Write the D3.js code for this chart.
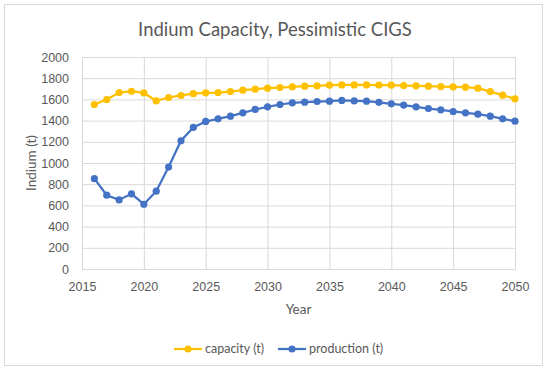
<!DOCTYPE html>
<html>
<head>
<meta charset="utf-8">
<script src="https://cdn.jsdelivr.net/npm/d3@7"></script>
<style>
  body { margin: 0; background: #fff; }
  svg { display: block; font-family: Lato, "Open Sans", sans-serif; }
</style>
</head>
<body>
<svg width="550" height="370"></svg>
<script>
// years on the x axis
var years = [2016, 2017, 2018, 2019, 2020, 2021, 2022, 2023, 2024, 2025,
  2026, 2027, 2028, 2029, 2030, 2031, 2032, 2033, 2034, 2035,
  2036, 2037, 2038, 2039, 2040, 2041, 2042, 2043, 2044, 2045,
  2046, 2047, 2048, 2049, 2050];

// capacity (t)
var capacity = [1552, 1599, 1665, 1677, 1661, 1586, 1618, 1637, 1654, 1662,
  1665, 1674, 1687, 1696, 1706, 1712, 1718, 1725, 1728, 1734,
  1737, 1737, 1737, 1735, 1734, 1731, 1728, 1725, 1721, 1718,
  1715, 1706, 1674, 1640, 1605];

// production (t)
var production = [852, 696, 652, 709, 611, 734, 962, 1210, 1336, 1392,
  1417, 1442, 1473, 1505, 1530, 1552, 1568, 1574, 1580, 1583,
  1590, 1586, 1583, 1572, 1558, 1546, 1530, 1514, 1502, 1486,
  1473, 1461, 1442, 1417, 1395];

var xTicks = [2015, 2020, 2025, 2030, 2035, 2040, 2045, 2050];
var yTicks = [0, 200, 400, 600, 800, 1000, 1200, 1400, 1600, 1800, 2000];

var seriesNames = ["capacity (t)", "production (t)"];
var seriesColours = ["#FFC000", "#4472C4"];

var series = [capacity, production].map(function(vals, i) {
  return {
    name: seriesNames[i],
    colour: seriesColours[i],
    values: vals.map(function(v, j) { return { year: years[j], value: v }; })
  };
});

// SET UP CHART
var svg = d3.select("svg"),
  margin = { top: 57, right: 35, bottom: 101, left: 82 },
  width = +svg.attr("width") - margin.left - margin.right,
  height = +svg.attr("height") - margin.top - margin.bottom;

var textColour = "#595959",
  gridColour = "#D9D9D9";

// outer chart border
svg.append("rect")
  .attr("x", 4.5)
  .attr("y", 4.5)
  .attr("width", 538)
  .attr("height", 361)
  .attr("fill", "#fff")
  .attr("stroke", "#D9D9D9");

var x = d3.scaleLinear().domain([2015, 2050]).range([0, width]),
  y = d3.scaleLinear().domain([0, 2000]).range([height, 0]);

var g = svg.append("g")
  .attr("transform", "translate(" + margin.left + "," + margin.top + ")");

// gridlines
g.append("g")
  .attr("class", "grid grid--y")
  .call(d3.axisLeft(y).tickValues(yTicks).tickSize(-width).tickFormat(""))
  .call(function(s) {
    s.select(".domain").remove();
    s.selectAll("line").attr("stroke", gridColour);
  });

g.append("g")
  .attr("class", "grid grid--x")
  .attr("transform", "translate(0," + height + ")")
  .call(d3.axisBottom(x).tickValues(xTicks).tickSize(-height).tickFormat(""))
  .call(function(s) {
    s.select(".domain").remove();
    s.selectAll("line").attr("stroke", gridColour);
  });

// SET UP AXES
g.append("g")
  .attr("class", "axis axis--x")
  .attr("transform", "translate(0," + height + ")")
  .call(d3.axisBottom(x).tickValues(xTicks).tickSize(0).tickPadding(13).tickFormat(d3.format("d")))
  .call(function(s) {
    s.select(".domain").attr("stroke", gridColour);
    s.selectAll("text").attr("fill", textColour).style("font-size", "12.5px");
  });

g.append("g")
  .attr("class", "axis axis--y")
  .call(d3.axisLeft(y).tickValues(yTicks).tickSize(0).tickPadding(13).tickFormat(d3.format("d")))
  .call(function(s) {
    s.select(".domain").remove();
    s.selectAll("text").attr("fill", textColour).style("font-size", "12.5px");
  });

// LINES
var line = d3.line()
  .x(function(d) { return x(d.year); })
  .y(function(d) { return y(d.value); });

var lines = g.selectAll(".series")
  .data(series)
  .enter()
  .append("g")
  .attr("class", "series");

lines.append("path")
  .attr("d", function(d) { return line(d.values); })
  .attr("fill", "none")
  .attr("stroke", function(d) { return d.colour; })
  .attr("stroke-width", 2.25);

lines.each(function(s) {
  d3.select(this).selectAll("circle")
    .data(s.values)
    .enter()
    .append("circle")
    .attr("cx", function(d) { return x(d.year); })
    .attr("cy", function(d) { return y(d.value); })
    .attr("r", 3.6)
    .attr("fill", s.colour);
});

// ADD TEXT
svg.append("text")
  .text("Indium Capacity, Pessimistic CIGS")
  .attr("x", 275)
  .attr("y", 36)
  .attr("text-anchor", "middle")
  .attr("fill", textColour)
  .style("font-size", "18.5px");

svg.append("text")
  .text("Year")
  .attr("x", margin.left + width / 2)
  .attr("y", 314)
  .attr("text-anchor", "middle")
  .attr("fill", textColour)
  .style("font-size", "13.5px");

svg.append("text")
  .text("Indium (t)")
  .attr("transform", "translate(36," + (margin.top + height / 2) + ") rotate(-90)")
  .attr("text-anchor", "middle")
  .attr("fill", textColour)
  .style("font-size", "13.5px");

// LEGEND
var legendX = [174, 278];
var legend = svg.selectAll(".legend")
  .data(series)
  .enter()
  .append("g")
  .attr("class", "legend")
  .attr("transform", function(d, i) { return "translate(" + legendX[i] + ",349)"; });

legend.append("line")
  .attr("x1", 0)
  .attr("x2", 28)
  .attr("stroke", function(d) { return d.colour; })
  .attr("stroke-width", 2.25);

legend.append("circle")
  .attr("cx", 14)
  .attr("r", 3.6)
  .attr("fill", function(d) { return d.colour; });

legend.append("text")
  .text(function(d) { return d.name; })
  .attr("x", 31)
  .attr("dy", "0.35em")
  .attr("fill", textColour)
  .style("font-size", "12.5px");
</script>
</body>
</html>
